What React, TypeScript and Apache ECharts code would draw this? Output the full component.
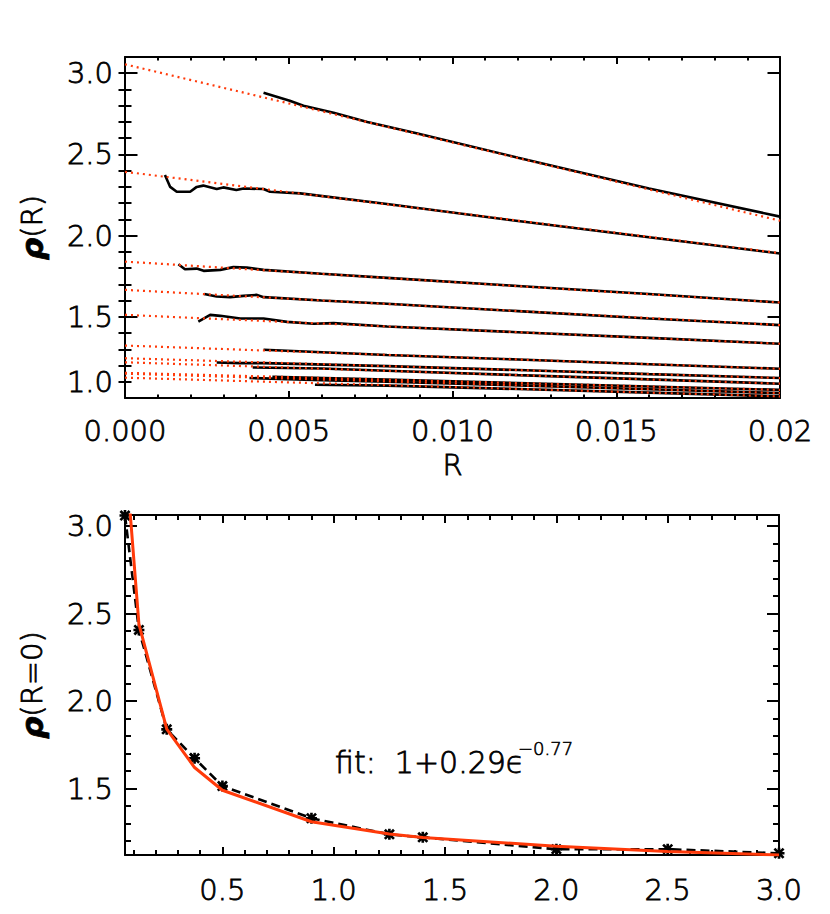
import React, { useEffect, useRef } from "react";
import * as echarts from "echarts";

// ---------- Top panel: rho(R) profiles and their linear fits ----------
const rMax = 0.02;
const fitIntercepts = [3.055, 2.393, 1.84, 1.666, 1.512, 1.323, 1.245, 1.22, 1.155, 1.15, 1.125];
const fitEnds = [2.092, 1.892, 1.588, 1.449, 1.334, 1.18, 1.123, 1.088, 1.05, 1.03, 1.01];

const profile1 = [[0.00423, 2.88], [0.00503, 2.83], [0.00545, 2.8], [0.00637, 2.756], [0.0074, 2.7], [0.0089, 2.63], [0.012, 2.48], [0.016, 2.29], [0.02, 2.117]];
const profile2 = [[0.00122, 2.373], [0.00138, 2.3], [0.00158, 2.27], [0.00199, 2.27], [0.00219, 2.3], [0.00239, 2.308], [0.0028, 2.287], [0.003, 2.297], [0.0034, 2.281], [0.00362, 2.29], [0.00423, 2.287], [0.00443, 2.27], [0.00535, 2.26], [0.008, 2.195], [0.012, 2.09], [0.016, 1.99], [0.02, 1.89]];
const profile3 = [[0.00163, 1.824], [0.00183, 1.793], [0.00219, 1.797], [0.0024, 1.783], [0.00291, 1.789], [0.00331, 1.806], [0.00372, 1.803], [0.00423, 1.789], [0.006, 1.765], [0.008, 1.74], [0.012, 1.69], [0.016, 1.64], [0.02, 1.588]];
const profile4 = [[0.00242, 1.641], [0.0028, 1.625], [0.00321, 1.621], [0.00362, 1.629], [0.00403, 1.635], [0.00423, 1.621], [0.006, 1.6], [0.008, 1.58], [0.012, 1.535], [0.016, 1.49], [0.02, 1.449]];
const profile5 = [[0.00224, 1.471], [0.0026, 1.512], [0.00291, 1.506], [0.00352, 1.49], [0.00423, 1.49], [0.00495, 1.469], [0.00576, 1.457], [0.00637, 1.461], [0.008, 1.44], [0.012, 1.405], [0.016, 1.37], [0.02, 1.334]];
const profile6 = [[0.00423, 1.297], [0.008, 1.265], [0.012, 1.237], [0.016, 1.208], [0.02, 1.18]];
const profile7 = [[0.0028, 1.219], [0.0035, 1.215], [0.0042, 1.215], [0.0052, 1.21], [0.008, 1.196], [0.012, 1.172], [0.016, 1.147], [0.02, 1.123]];
const profile8 = [[0.0039, 1.188], [0.006, 1.182], [0.008, 1.168], [0.012, 1.141], [0.016, 1.115], [0.02, 1.088]];
const profile9 = [[0.0045, 1.13], [0.008, 1.113], [0.012, 1.092], [0.016, 1.071], [0.02, 1.05]];
const profile10 = [[0.0038, 1.123], [0.006, 1.11], [0.008, 1.1], [0.012, 1.078], [0.016, 1.054], [0.02, 1.03]];
const profile11 = [[0.0058, 1.082], [0.008, 1.076], [0.012, 1.055], [0.016, 1.033], [0.02, 1.01]];
const profiles = [profile1, profile2, profile3, profile4, profile5, profile6, profile7, profile8, profile9, profile10, profile11];

// ---------- Bottom panel: rho(R=0) vs epsilon ----------
const epsValues = [0.0625, 0.125, 0.25, 0.375, 0.5, 0.9, 1.25, 1.4, 2.0, 2.5, 3.0];
const rho0Values = [3.06, 2.406, 1.838, 1.673, 1.514, 1.33, 1.238, 1.221, 1.153, 1.153, 1.13];
const fitCurveValues = [3.45, 2.44, 1.84, 1.62, 1.49, 1.31, 1.24, 1.22, 1.17, 1.14, 1.12];

// ---------- Tick labels ----------
const topXLabelValues = [0, 0.005, 0.01, 0.015, 0.02];
const topXLabels = ["0.000", "0.005", "0.010", "0.015", "0.02"];
const topYLabelValues = [1.1, 1.5, 2.0, 2.5, 3.0];
const topYLabels = ["1.0", "1.5", "2.0", "2.5", "3.0"];
const botXLabelValues = [0.5, 1.0, 1.5, 2.0, 2.5, 3.0];
const botXLabels = ["0.5", "1.0", "1.5", "2.0", "2.5", "3.0"];
const botYLabelValues = [1.5, 2.0, 2.5, 3.0];
const botYLabels = ["1.5", "2.0", "2.5", "3.0"];

const FONT = "DejaVu Sans";
const RED = "#ff3a0a";
const TXT = { fontFamily: FONT, fontWeight: 200, color: "#000", textBorderColor: "#000", textBorderWidth: 0.8 };

function steps(from: number, to: number, step: number): number[] {
  const out: number[] = [];
  const n = Math.round((to - from) / step);
  for (let i = 0; i <= n; i++) out.push(Math.round((from + i * step) * 1e6) / 1e6);
  return out;
}

function lookup(vals: number[], labels: string[]) {
  return (v: number) => {
    const i = vals.findIndex((x) => Math.abs(x - v) < 1e-7);
    return i >= 0 ? labels[i] : "";
  };
}

type AxisCfg = {
  grid: number;
  min: number;
  max: number;
  majors: number[];
  minors: number[];
  labelVals: number[];
  labels: string[];
  majorLen: number;
  minorLen: number;
  margin: number;
  name?: string;
  nameGap?: number;
};

function makeAxes(dim: "x" | "y", c: AxisCfg) {
  const main = dim === "x" ? "bottom" : "left";
  const other = dim === "x" ? "top" : "right";
  const lineStyle = { color: "#000", width: 2 };
  const base = {
    type: "value",
    gridIndex: c.grid,
    min: c.min,
    max: c.max,
    splitLine: { show: false },
    offset: 0,
  };
  const nameCfg =
    c.name !== undefined
      ? dim === "x"
        ? {
            name: c.name,
            nameLocation: "middle",
            nameGap: c.nameGap,
            nameTextStyle: { fontSize: 29, ...TXT },
          }
        : {
            name: c.name,
            nameLocation: "middle",
            nameGap: c.nameGap,
            nameRotate: 90,
            nameTextStyle: {
              fontSize: 29,
              ...TXT,
              rich: {
                i: { fontSize: 31, fontFamily: FONT, fontStyle: "italic", fontWeight: "bold", color: "#000" },
              },
            },
          }
      : {};
  const majorMain = {
    ...base,
    ...nameCfg,
    position: main,
    axisLine: { show: true, onZero: false, lineStyle },
    axisTick: { show: true, inside: true, length: c.majorLen, customValues: c.majors, lineStyle },
    axisLabel: {
      show: true,
      customValues: c.labelVals,
      formatter: lookup(c.labelVals, c.labels),
      fontSize: 29,
      ...TXT,
      margin: c.margin,
      ...(dim === "y" ? { padding: [6, 0, 0, 0] } : {}),
    },
  };
  const minorMain = {
    ...base,
    position: main,
    axisLine: { show: false },
    axisTick: { show: true, inside: true, length: c.minorLen, customValues: c.minors, lineStyle },
    axisLabel: { show: false },
  };
  const majorOther = {
    ...base,
    position: other,
    axisLine: { show: true, onZero: false, lineStyle },
    axisTick: { show: true, inside: true, length: c.majorLen, customValues: c.majors, lineStyle },
    axisLabel: { show: false },
  };
  const minorOther = {
    ...base,
    position: other,
    axisLine: { show: false },
    axisTick: { show: true, inside: true, length: c.minorLen, customValues: c.minors, lineStyle },
    axisLabel: { show: false },
  };
  return [majorMain, minorMain, majorOther, minorOther];
}

const ASTERISK =
  "path://M3.8,0 H6.2 V10 H3.8 Z M0,3.8 H10 V6.2 H0 Z M0,1.7 L1.7,0 L10,8.3 L8.3,10 Z M8.3,0 L10,1.7 L1.7,10 L0,8.3 Z";

export default function App() {
  const ref = useRef<HTMLDivElement>(null);

  useEffect(() => {
    if (!ref.current) return;
    const chart = echarts.init(ref.current, undefined, { renderer: "svg" });

    const xAxes = [
      ...makeAxes("x", {
        grid: 0, min: 0, max: rMax,
        majors: [0, 0.005, 0.01, 0.015, 0.02], minors: steps(0.001, 0.019, 0.001),
        labelVals: topXLabelValues, labels: topXLabels,
        majorLen: 7, minorLen: 3.5, margin: 18, name: "R", nameGap: 52,
      }),
      ...makeAxes("x", {
        grid: 1, min: epsValues[0], max: 3.0,
        majors: [0.5, 1.0, 1.5, 2.0, 2.5, 3.0], minors: steps(0.1, 2.9, 0.1),
        labelVals: botXLabelValues, labels: botXLabels,
        majorLen: 8, minorLen: 5, margin: 20,
      }),
    ];
    const yAxes = [
      ...makeAxes("y", {
        grid: 0, min: 1.0, max: 3.1,
        majors: [1.5, 2.0, 2.5, 3.0], minors: steps(1.1, 3.0, 0.1),
        labelVals: topYLabelValues, labels: topYLabels,
        majorLen: 12.5, minorLen: 6.5, margin: 12, name: "{i|ρ}(R)", nameGap: 78,
      }),
      ...makeAxes("y", {
        grid: 1, min: 1.12, max: 3.063,
        majors: [1.5, 2.0, 2.5, 3.0], minors: steps(1.2, 3.0, 0.1),
        labelVals: botYLabelValues, labels: botYLabels,
        majorLen: 12, minorLen: 6, margin: 12, name: "{i|ρ}(R=0)", nameGap: 78,
      }),
    ];

    const series: any[] = [];
    profiles.forEach((p) => {
      series.push({
        type: "line", xAxisIndex: 0, yAxisIndex: 0, data: p,
        symbol: "none", z: 2,
        lineStyle: { color: "#000", width: 2.6 },
      });
    });
    fitIntercepts.forEach((b, i) => {
      series.push({
        type: "line", xAxisIndex: 0, yAxisIndex: 0,
        data: [[0, b], [rMax, fitEnds[i]]],
        symbol: "none", z: 3,
        lineStyle: { color: RED, width: 2.2, type: [2, 4] },
      });
    });
    series.push({
      type: "line", xAxisIndex: 4, yAxisIndex: 4,
      data: epsValues.map((e, i) => [e, rho0Values[i]]),
      symbol: ASTERISK, symbolSize: 11, showSymbol: true, z: 2,
      itemStyle: { color: "#000" },
      lineStyle: { color: "#000", width: 2.6, type: [9, 5] },
    });
    series.push({
      type: "line", xAxisIndex: 4, yAxisIndex: 4,
      data: epsValues.map((e, i) => [e, fitCurveValues[i]]),
      symbol: "none", z: 3,
      lineStyle: { color: RED, width: 3 },
    });

    chart.setOption({
      animation: false,
      backgroundColor: "#fff",
      grid: [
        { left: 125, right: 50, top: 57, bottom: 516 },
        { left: 125, right: 51, top: 515, bottom: 59 },
      ],
      xAxis: xAxes,
      yAxis: yAxes,
      series,
      graphic: [
        {
          type: "text", x: 335, y: 762,
          style: { text: "fit:  1+0.29ϵ", fontSize: 30, fontFamily: FONT, fontWeight: 200, fill: "#000", stroke: "#000", lineWidth: 0.8, verticalAlign: "middle", textVerticalAlign: "middle" },
        },
        {
          type: "text", x: 518, y: 748,
          style: { text: "−0.77", fontSize: 18, fontFamily: FONT, fontWeight: 200, fill: "#000", stroke: "#000", lineWidth: 0.6, verticalAlign: "middle", textVerticalAlign: "middle" },
        },
      ],
    });
    return () => chart.dispose();
  }, []);

  return <div ref={ref} style={{ position: "absolute", left: 0, top: 0, width: 830, height: 914, background: "#fff" }} />;
}
